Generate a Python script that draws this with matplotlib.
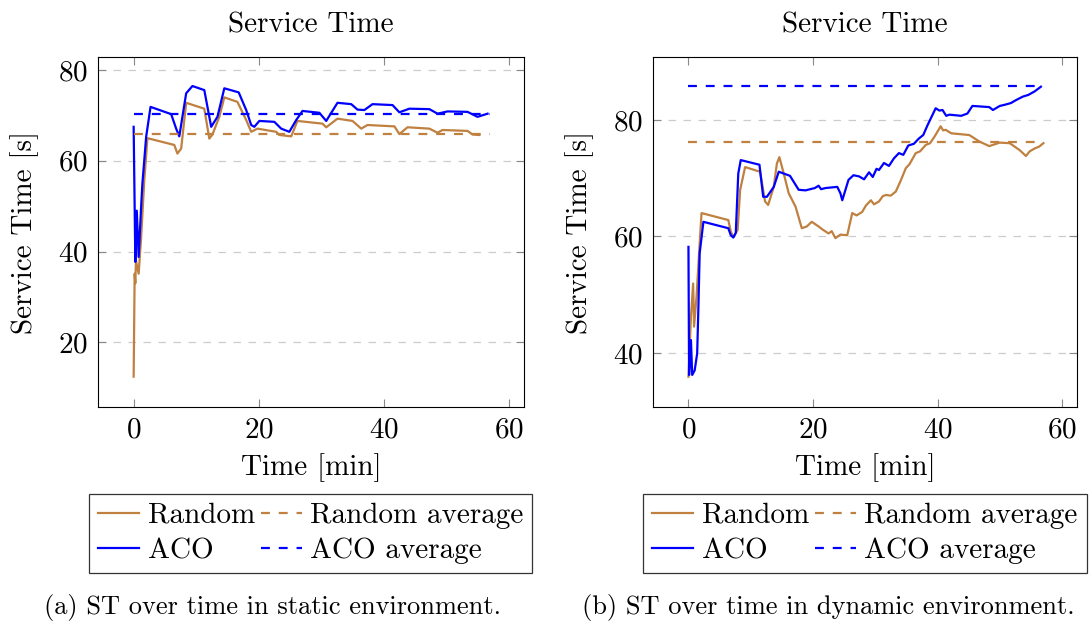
import matplotlib
matplotlib.use("Agg")
import matplotlib.pyplot as plt

# colours used by the thesis figure
brown = "#BF8040"
blue = "#0000FF"

# (a) static environment - Random
static_random_t = [0, 0.16, 0.27, 0.37, 0.8, 1.2, 1.7, 2.2, 6.5, 7.0, 7.6, 8.4, 11.3, 12.1, 12.6, 13.7,
                   14.5, 16.6, 18.0, 18.8, 19.8, 22.8, 23.3, 25.2, 26.2, 30.2, 30.8, 32.6, 35.0, 36.4,
                   37.4, 41.7, 42.5, 43.8, 47.3, 48.6, 49.4, 53.4, 54.2, 55.3]
static_random_st = [12.4, 35.1, 33.0, 38.0, 35.1, 43.2, 55.7, 65.0, 63.5, 61.6, 62.7, 72.8, 71.5, 64.9, 65.8, 69.7,
                    74.0, 73.0, 69.0, 66.4, 67.1, 66.4, 65.7, 65.4, 68.8, 68.2, 67.4, 69.3, 68.8, 67.1,
                    67.9, 67.6, 65.9, 67.4, 67.1, 66.2, 66.8, 66.6, 65.8, 65.7]

# (a) static environment - ACO
static_aco_t = [0, 0.27, 0.5, 0.8, 1.2, 1.4, 2.0, 2.7, 6.0, 6.8, 7.3, 8.4, 9.4, 11.3, 12.4, 13.4, 14.5,
                16.8, 18.0, 18.8, 19.3, 20.1, 22.5, 23.6, 24.9, 26.0, 27.0, 29.7, 30.8, 32.6, 34.8,
                35.8, 36.9, 38.2, 41.4, 42.5, 44.1, 47.3, 48.6, 50.2, 53.4, 55.0, 56.6]
static_aco_st = [67.5, 37.7, 49.0, 38.8, 50.0, 55.0, 65.3, 71.9, 70.3, 67.1, 65.4, 74.9, 76.5, 75.6, 67.5, 69.7, 76.0,
                 75.1, 71.2, 67.9, 67.5, 68.8, 68.6, 67.1, 66.4, 69.0, 71.0, 70.6, 68.8, 72.8, 72.5,
                 71.3, 71.2, 72.5, 72.3, 70.7, 71.5, 71.4, 70.4, 70.9, 70.8, 69.7, 70.4]

static_random_avg = 65.9
static_aco_avg = 70.4

# (b) dynamic environment - Random
dyn_random_t = [0, 0.4, 0.75, 0.9, 1.3, 1.8, 2.1, 6.4, 6.8, 7.2, 7.9, 8.3, 9.1, 11.5, 12.3, 12.8, 13.7,
                14.2, 14.6, 15.3, 16.1, 17.2, 18.2, 19.0, 19.8, 20.9, 21.5, 22.5, 23.0, 23.6, 24.4, 25.5,
                26.3, 27.0, 27.9, 28.5, 29.3, 29.8, 30.6, 31.2, 31.7, 32.5, 33.3, 34.1, 34.9, 35.5,
                36.5, 37.2, 38.1, 38.8, 39.5, 40.5, 40.9, 41.3, 42.2, 45.1, 46.7, 48.3, 50.0, 51.6,
                53.2, 54.2, 54.8, 55.6, 56.3, 57.0]
dyn_random_st = [35.9, 46.2, 51.9, 44.5, 49.7, 58.8, 64.0, 62.8, 60.8, 59.9, 61.1, 68.0, 71.9, 71.1, 66.0, 65.4, 68.5,
                 72.5, 73.6, 70.8, 67.4, 65.1, 61.4, 61.7, 62.5, 61.7, 61.2, 60.5, 60.9, 59.7, 60.3, 60.2,
                 64.0, 63.6, 64.2, 65.3, 66.2, 65.5, 66.0, 66.9, 67.1, 67.0, 67.7, 69.6, 71.7, 72.4,
                 74.3, 74.6, 75.7, 76.0, 77.1, 78.9, 78.2, 78.3, 77.7, 77.4, 76.3, 75.5, 76.1, 76.0,
                 74.8, 73.8, 74.6, 75.1, 75.4, 76.0]

# (b) dynamic environment - ACO
dyn_aco_t = [0, 0.1, 0.4, 0.6, 1.0, 1.4, 1.6, 1.8, 2.4, 6.4, 6.8, 7.2, 7.6, 8.0, 8.4, 11.4, 12.0, 12.6,
             13.7, 14.5, 16.3, 17.7, 18.8, 20.3, 20.9, 21.3, 22.0, 23.9, 24.4, 24.7, 25.7, 26.5, 27.4,
             28.2, 29.0, 29.6, 30.2, 30.6, 31.4, 32.2, 33.0, 33.8, 34.5, 35.3, 36.2, 37.0, 37.7, 38.4,
             39.7, 40.3, 40.8, 41.4, 41.9, 43.8, 44.8, 45.6, 48.3, 48.9, 50.0, 50.8, 51.8, 52.6,
             53.7, 54.6, 55.6, 56.6]
dyn_aco_st = [58.2, 36.2, 42.2, 36.2, 37.0, 39.9, 47.9, 57.1, 62.5, 61.4, 60.2, 59.8, 60.6, 70.8, 73.1, 72.3, 66.8, 66.8,
              68.5, 71.1, 70.4, 68.0, 67.9, 68.3, 68.7, 68.1, 68.3, 68.5, 67.4, 66.2, 69.7, 70.5, 70.3,
              69.8, 71.0, 70.2, 71.6, 71.4, 72.6, 72.1, 73.4, 74.3, 74.0, 75.6, 75.9, 76.8, 77.4, 79.1,
              82.0, 81.6, 81.7, 80.7, 80.9, 80.7, 81.1, 82.4, 82.2, 81.7, 82.4, 82.6, 82.9, 83.4,
              84.0, 84.3, 84.9, 85.7]

dyn_random_avg = 76.2
dyn_aco_avg = 85.9
avg_span = [0, 57]

plt.rcParams["font.family"] = "cmr10"
plt.rcParams["mathtext.fontset"] = "cm"
plt.rcParams["axes.formatter.use_mathtext"] = True
fs = 21

fig = plt.figure(figsize=(10.89, 6.21), dpi=100)
ax1 = fig.add_axes([0.090, 0.3446, 0.391, 0.5636])
ax2 = fig.add_axes([0.5996, 0.3446, 0.3894, 0.5636])


def style_axis(ax):
    ax.grid(axis="y", linestyle=(0, (6, 6)), color="#cccccc", linewidth=0.9)
    ax.set_axisbelow(True)
    ax.tick_params(direction="in", top=True, right=True, length=6, color="#888888",
                   labelsize=fs, pad=7)
    for s in ax.spines.values():
        s.set_linewidth(0.8)
    ax.set_title("Service Time", fontsize=fs, pad=18)
    ax.set_xlabel("Time [min]", fontsize=fs, labelpad=7)
    ax.set_ylabel("Service Time [s]", fontsize=fs, labelpad=14)
    ax.set_xticks([0, 20, 40, 60])
    ax.set_xlim(-5.7, 62.4)


# left panel
ax1.plot(static_random_t, static_random_st, color=brown, lw=1.6, label="Random")
ax1.plot(static_aco_t, static_aco_st, color=blue, lw=1.6, label="ACO")
ax1.plot(avg_span, [static_random_avg] * 2, color=brown, lw=1.6, ls=(0, (4, 4)), label="Random average")
ax1.plot(avg_span, [static_aco_avg] * 2, color=blue, lw=1.6, ls=(0, (4, 4)), label="ACO average")
style_axis(ax1)
ax1.set_ylim(5.7, 82.9)
ax1.set_yticks([20, 40, 60, 80])

# right panel
ax2.plot(dyn_random_t, dyn_random_st, color=brown, lw=1.6, label="Random")
ax2.plot(dyn_aco_t, dyn_aco_st, color=blue, lw=1.6, label="ACO")
ax2.plot(avg_span, [dyn_random_avg] * 2, color=brown, lw=1.6, ls=(0, (4, 4)), label="Random average")
ax2.plot(avg_span, [dyn_aco_avg] * 2, color=blue, lw=1.6, ls=(0, (4, 4)), label="ACO average")
style_axis(ax2)
ax2.set_ylim(30.7, 90.8)
ax2.set_yticks([40, 60, 80])

for ax in (ax1, ax2):
    leg = ax.legend(loc="upper center", bbox_to_anchor=(0.5, -0.248), ncol=2, fontsize=fs,
                    frameon=True, fancybox=False, edgecolor="black", handlelength=1.4,
                    columnspacing=0.2, handletextpad=0.3, borderpad=0.3, labelspacing=0.3,
                    borderaxespad=0)
    leg.get_frame().set_linewidth(0.9)

fig.text(0.2498, 0.0225, "(a) ST over time in static environment.", ha="center", va="center", fontsize=19)
fig.text(0.7603, 0.0225, "(b) ST over time in dynamic environment.", ha="center", va="center", fontsize=19)

fig.savefig("out.png", dpi=100)
